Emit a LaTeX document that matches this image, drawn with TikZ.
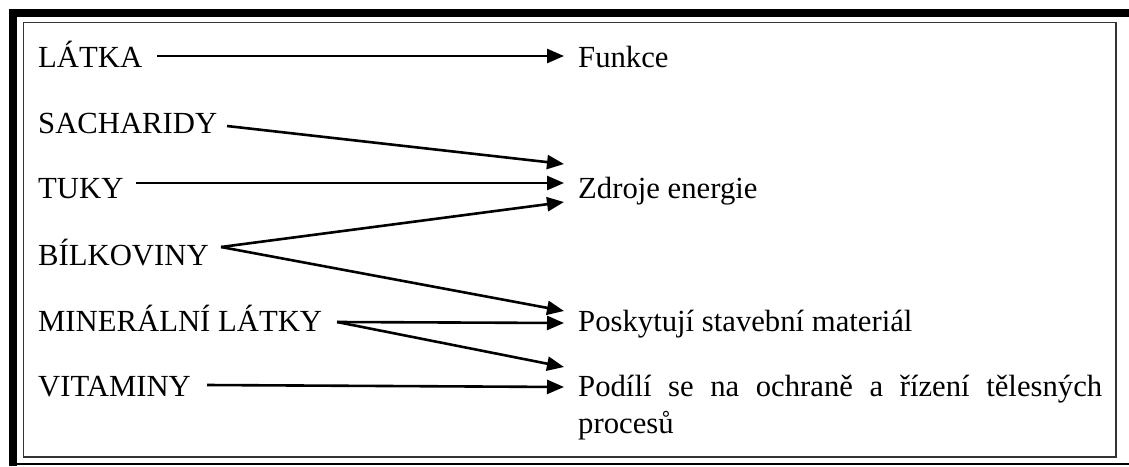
\documentclass[tikz,border=0pt]{standalone}
\usepackage{fontspec}
\setmainfont{Liberation Serif}
\usetikzlibrary{arrows.meta}
\begin{document}
\begin{tikzpicture}[x=1pt,y=-1pt,
  lbl/.style={anchor=base west,inner sep=0pt,font=\fontsize{30.7}{37}\selectfont},
  arr/.style={line width=2.6pt,-{Triangle[length=17pt,width=14pt]}}]
\useasboundingbox (0,0) rectangle (1129,466);
% frame
\fill[black] (9,9) rectangle (1129,17);
\fill[black] (9,9) rectangle (17,466);
\draw[line width=1.6pt] (9,464) -- (1129,464);
\draw[line width=1.4pt,black!80] (23.5,22.5) rectangle (1116,457);
% left texts
\node[lbl] (latka) at (38,67) {LÁTKA};
\node[lbl] (sach) at (38,133) {SACHARIDY};
\node[lbl] (tuky) at (38,198) {TUKY};
\node[lbl] (bilk) at (38,265) {BÍLKOVINY};
\node[lbl] (miner) at (38,331) {MINERÁLNÍ LÁTKY};
\node[lbl] (vit) at (38,396) {VITAMINY};
% right texts
\node[lbl] (funkce) at (578,67) {Funkce};
\node[lbl] (zdroje) at (578,198) {Zdroje energie};
\node[lbl] (posk) at (578,331) {Poskytují stavební materiál};
\node[lbl,text width=524pt,align=left] (podili) at (578,396)
  {\makebox[524pt][l]{Podílí\hfill se\hfill na\hfill ochraně\hfill a\hfill řízení\hfill tělesných}\\procesů};
% connector ends
\coordinate (s1) at (157,56);   \coordinate (e1) at (564,56);
\coordinate (s2) at (227,126);  \coordinate (e2) at (564,164);
\coordinate (s3) at (136,183);  \coordinate (e3) at (564,183);
\coordinate (s4) at (221,247);  \coordinate (e4) at (564,202);
                                \coordinate (e5) at (564,311);
\coordinate (s6) at (337,322);  \coordinate (e6) at (564,323);
                                \coordinate (e7) at (564,367);
\coordinate (s8) at (207,385);  \coordinate (e8) at (564,387);
\draw[arr] (s1) -- (e1);
\draw[arr] (s2) -- (e2);
\draw[arr] (s3) -- (e3);
\draw[arr] (s4) -- (e4);
\draw[arr] (s4) -- (e5);
\draw[arr] (s6) -- (e6);
\draw[arr] (s6) -- (e7);
\draw[arr] (s8) -- (e8);
\end{tikzpicture}
\end{document}
